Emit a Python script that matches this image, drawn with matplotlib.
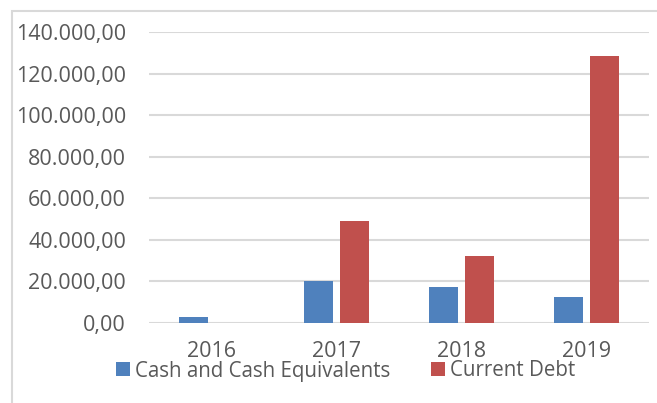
import matplotlib
matplotlib.use("Agg")
import matplotlib.pyplot as plt
import numpy as np
from matplotlib.patches import Rectangle
from matplotlib.ticker import FuncFormatter

years = ["2016", "2017", "2018", "2019"]
cash = [2700, 20200, 17500, 12400]
debt = [0, 49200, 32200, 128400]
series_names = ["Cash and Cash Equivalents", "Current Debt"]

BLUE = "#4F81BD"
RED = "#C0504D"
GREY = "#595959"

plt.rcParams["font.family"] = ["Open Sans", "DejaVu Sans"]

W, H = 657, 403
fig = plt.figure(figsize=(W / 100, H / 100), dpi=100)
ax = fig.add_axes([149 / W, (H - 323) / H, 500 / W, 291 / H])

x = np.arange(len(years))
width = 0.228
offset = 0.143
ax.bar(x - offset, cash, width, color=BLUE, label=series_names[0], zorder=3)
ax.bar(x + offset, debt, width, color=RED, label=series_names[1], zorder=3)

ax.set_xlim(-0.5, len(years) - 0.5)
ax.set_ylim(0, 140000)
ax.set_yticks(np.arange(0, 140001, 20000))

def euro_fmt(v, pos):
    s = f"{v:,.2f}"
    return s.replace(",", "X").replace(".", ",").replace("X", ".")

ax.yaxis.set_major_formatter(FuncFormatter(euro_fmt))
ax.set_xticks(x)
ax.set_xticklabels(years)
ax.tick_params(axis="both", length=0, labelsize=15.5, colors=GREY)
ax.tick_params(axis="y", pad=16.5)
ax.tick_params(axis="x", pad=13)
ax.grid(axis="y", color="#D9D9D9", linewidth=1.5, zorder=0)
for s in ax.spines.values():
    s.set_visible(False)

# chart area border
fig.patches.append(Rectangle((12 / W, -0.05), 1.1, 1 - 11.5 / H + 0.05,
                             transform=fig.transFigure, fill=False,
                             edgecolor="#D9D9D9", linewidth=1.5))

fig.legend(loc="center", bbox_to_anchor=(0.526, (H - 371) / H), ncol=2,
           frameon=False, fontsize=14.8, labelcolor=GREY,
           handlelength=0.68, handleheight=0.68, handletextpad=0.25,
           columnspacing=2.0, borderpad=0)

fig.savefig("out.png", dpi=100)
